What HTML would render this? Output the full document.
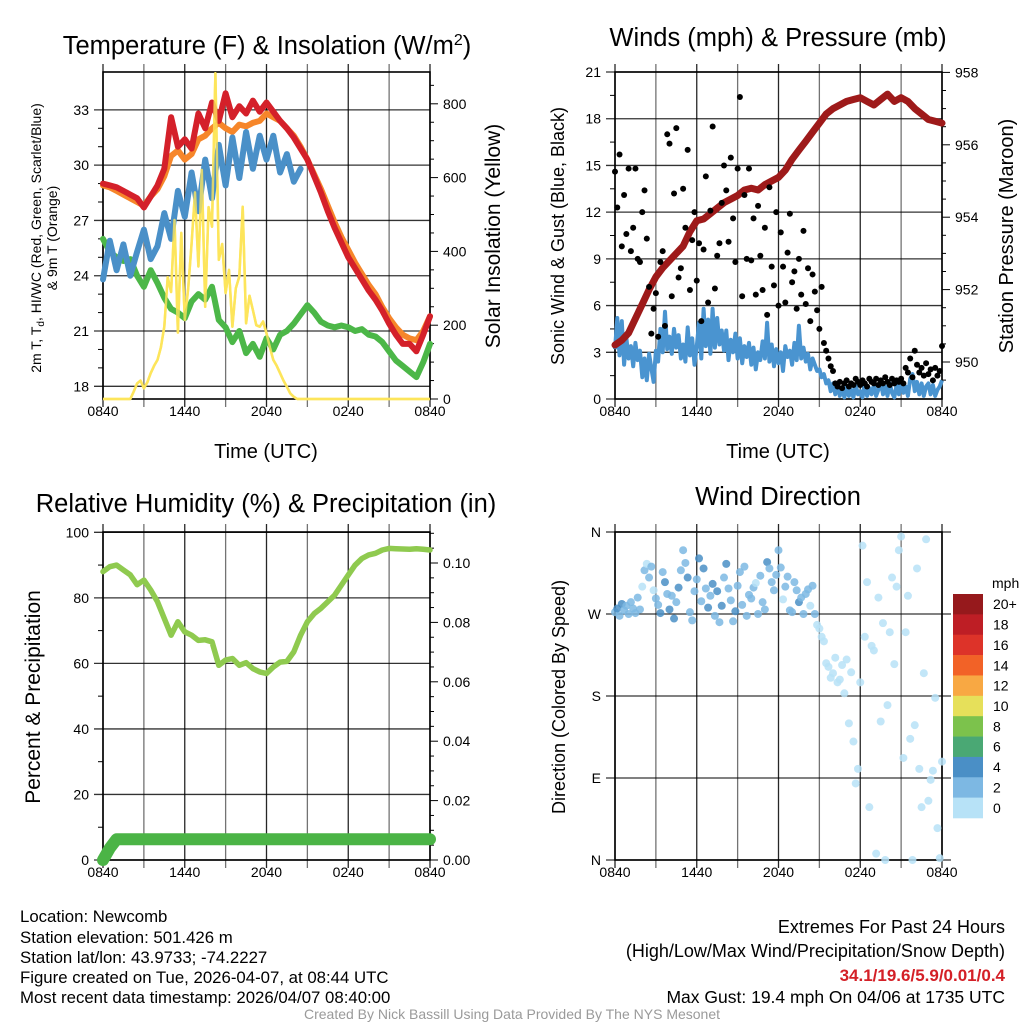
<!DOCTYPE html>
<html><head><meta charset="utf-8">
<style>
html,body{margin:0;padding:0;background:#fff;}
svg{display:block;font-family:"Liberation Sans",Arial,sans-serif;}
</style></head>
<body>
<svg id="chart" width="1024" height="1024" viewBox="0 0 1024 1024" xmlns="http://www.w3.org/2000/svg">
<rect x="0" y="0" width="1024" height="1024" fill="#fff"/>
<g id="p1"></g>
<g id="p2"></g>
<g id="p3"></g>
<g id="p4"></g>

<text x="267" y="54" font-size="25.5" text-anchor="middle">Temperature (F) &amp; Insolation (W/m<tspan dy="-9" font-size="16">2</tspan><tspan dy="9">)</tspan></text>
<text x="778" y="46" font-size="25.5" text-anchor="middle">Winds (mph) &amp; Pressure (mb)</text>
<text x="266" y="512" font-size="25.5" text-anchor="middle">Relative Humidity (%) &amp; Precipitation (in)</text>
<text x="778" y="505" font-size="25.5" text-anchor="middle">Wind Direction</text>

<text x="266" y="458" font-size="20" text-anchor="middle">Time (UTC)</text>
<text x="778" y="458" font-size="20" text-anchor="middle">Time (UTC)</text>

<text transform="translate(41,238) rotate(-90)" font-size="14" text-anchor="middle">2m T, T<tspan dy="3" font-size="10">d</tspan><tspan dy="-3">, HI/WC (Red, Green, Scarlet/Blue)</tspan></text>
<text transform="translate(57,238) rotate(-90)" font-size="14" text-anchor="middle">&amp; 9m T (Orange)</text>
<text transform="translate(500,236) rotate(-90)" font-size="21" text-anchor="middle">Solar Insolation (Yellow)</text>
<text transform="translate(564,236) rotate(-90)" font-size="18" text-anchor="middle">Sonic Wind &amp; Gust (Blue, Black)</text>
<text transform="translate(1013,236) rotate(-90)" font-size="20" text-anchor="middle">Station Pressure (Maroon)</text>
<text transform="translate(40,697) rotate(-90)" font-size="21" text-anchor="middle">Percent &amp; Precipitation</text>
<text transform="translate(565,697) rotate(-90)" font-size="18" text-anchor="middle">Direction (Colored By Speed)</text>

<g id="info" font-size="16.8">
<text x="20" y="922">Location: Newcomb</text>
<text x="20" y="943">Station elevation: 501.426 m</text>
<text x="20" y="963">Station lat/lon: 43.9733; -74.2227</text>
<text x="20" y="983">Figure created on Tue, 2026-04-07, at 08:44 UTC</text>
<text x="20" y="1003">Most recent data timestamp: 2026/04/07 08:40:00</text>
<g font-size="18">
<text x="1005" y="933" text-anchor="end">Extremes For Past 24 Hours</text>
<text x="1005" y="957" text-anchor="end">(High/Low/Max Wind/Precipitation/Snow Depth)</text>
<text x="1005" y="981" text-anchor="end" fill="#d42027" font-weight="bold" font-size="17">34.1/19.6/5.9/0.01/0.4</text>
<text x="1005" y="1003" text-anchor="end" font-size="17.5">Max Gust: 19.4 mph On 04/06 at 1735 UTC</text>
</g>
<text x="512" y="1019" text-anchor="middle" font-size="14" fill="#9a9a9a">Created By Nick Bassill Using Data Provided By The NYS Mesonet</text>
</g>
</svg>
<script>
// ---------- data ----------
const xTickLabels = ["0840","1440","2040","0240","0840"];
// half-hourly temperatures (F), 0840 -> 0840
const tempRed = [29.0,28.9,28.8,28.6,28.4,28.2,27.7,28.3,28.9,29.8,32.6,31.0,31.4,30.9,32.8,32.0,33.4,32.4,33.9,32.6,33.2,32.8,33.5,32.9,33.4,32.9,32.4,32.0,31.5,30.9,30.3,29.4,28.5,27.5,26.6,25.8,25.0,24.4,23.8,23.2,22.7,22.1,21.4,20.8,20.3,20.3,19.9,20.8,21.8];
const tempOrange = [28.9,28.8,28.6,28.4,28.2,28.0,27.8,28.3,28.7,29.4,30.5,30.8,30.3,30.6,31.4,31.6,32.0,32.3,32.0,31.8,32.2,32.1,32.3,32.4,32.8,32.6,32.4,32.0,31.6,31.0,30.3,29.5,28.7,27.8,26.9,26.1,25.4,24.7,24.1,23.5,23.0,22.3,21.7,21.2,20.8,20.6,20.5,21.0,21.8];
const tempBlue = [23.8,25.9,24.3,25.7,24.0,25.3,26.5,24.9,25.6,27.4,26.0,28.6,27.2,29.6,27.5,30.3,28.2,31.1,28.9,31.5,29.3,31.8,29.8,31.6,30.3,31.6,29.6,30.6,29.1,29.8];
const tempGreen = [26.0,25.3,25.0,24.8,24.9,24.0,23.4,24.3,23.6,22.8,22.2,22.0,21.7,22.6,23.0,22.7,23.4,21.6,21.2,20.4,21.0,19.8,20.3,19.6,20.6,20.0,20.8,21.0,21.4,21.9,22.4,22.0,21.5,21.3,21.2,21.3,21.2,21.0,21.1,20.8,20.7,20.4,19.9,19.4,19.1,18.8,18.5,19.3,20.3];
// quarter-hourly solar (W/m2)
const solar = [0,0,0,0,0,0,0,0,0,20,42,50,29,45,70,90,106,140,196,330,290,485,180,450,214,300,422,560,359,621,250,520,467,883,377,420,287,350,196,300,332,521,205,280,241,200,196,210,178,140,106,90,70,50,33,15,6,0,0,0,0,0,0,0,0,0,0,0,0,0,0,0,0,0,0,0,0,0,0,0,0,0,0,0,0,0,0,0,0,0,0,0,0,0,0,0,0];
// half-hourly pressure (mb)
const pressure = [950.47,950.6,950.8,951.2,951.6,952.0,952.35,952.6,952.8,953.0,953.2,953.6,953.9,953.95,954.1,954.25,954.4,954.5,954.6,954.75,954.8,954.75,954.9,955.0,955.1,955.3,955.6,955.85,956.1,956.35,956.6,956.85,957.0,957.1,957.2,957.25,957.3,957.2,957.1,957.25,957.4,957.2,957.3,957.2,957.0,956.85,956.7,956.65,956.6];
// 10-minute wind (mph)
const windSpeed = [3.2,5.2,2.8,5.0,2.2,3.9, 2.6,3.4,2.1,3.6,2.5,3.1, 1.4,2.6,1.2,2.9,2.0,1.1, 3.1,2.4,4.5,3.0,5.6,3.2, 4.0,2.9,4.5,3.3,4.1,2.6, 3.5,2.4,4.6,2.8,3.9,2.2, 3.4,4.9,2.6,5.8,3.4,5.1, 2.9,5.8,3.3,5.2,3.5,4.4, 3.1,4.4,2.5,3.8,3.0,4.2, 2.6,3.9,2.3,3.4,2.7,3.6, 2.2,3.3,1.9,3.0,2.5,3.7, 2.6,4.9,2.4,3.5,2.1,3.2, 2.3,3.0,1.8,3.4,2.7,3.1, 2.2,3.6,2.5,4.7,2.6,3.3, 2.4,2.9,1.9,2.6,2.2,1.8, 1.9,1.4,1.6,1.0,1.2,0.5, 1.0,0.3,0.9,0.2,0.7,0.1, 0.8,0.2,0.6,0.1,0.9,0.3, 0.5,0.1,1.0,0.2,0.7,0.3, 0.9,0.2,0.6,1.1,0.3,0.8, 0.2,1.0,0.4,0.1,0.9,0.3, 1.2,0.4,0.8,0.2,1.3,1.6, 0.5,1.1,0.3,1.0,0.2,0.8, 1.0,0.3,0.9,0.2,0.6,0.8, 1.2];
const windGust = [14.6,12.3,15.7,9.8,13.1,10.6, 14.8,9.5,11.0,14.8,9.0,8.8, 12.0,13.4,10.3,7.2,4.2,5.8, 6.8,4.0,8.8,9.5,4.7,17.0, 16.4,6.6,13.2,17.4,7.8,8.4, 13.5,11.0,16.0,7.0,10.2,12.0, 7.6,10.0,5.0,9.6,14.3,6.2, 12.1,17.5,7.1,9.2,10.0,12.6, 15.0,13.4,10.1,15.5,11.6,8.8, 14.8,19.4,6.6,13.1,9.0,14.8, 8.9,11.6,6.7,12.4,9.2,7.0, 11.0,5.4,13.6,8.5,7.3,12.0, 6.0,10.7,8.5,6.2,9.4,11.9, 7.5,8.2,5.8,9.0,6.7,10.8, 6.1,8.4,5.0,8.0,6.9,5.7, 4.5,7.2,3.6,3.1,2.6,2.1, 1.8,1.0,0.8,1.1,0.7,1.0, 1.2,0.8,1.0,0.9,1.3,1.1, 0.9,1.2,1.0,0.8,1.3,1.1, 1.0,1.3,0.9,1.2,1.0,1.4, 1.1,0.9,1.3,1.0,1.2,1.1, 1.3,1.0,2.0,1.7,2.6,1.4, 3.1,2.2,1.7,2.0,1.5,2.3, 1.6,1.9,1.2,2.0,1.5,1.8, 3.4];
const windDir = [272,276,268,281,274,279, 270,283,276,271,288,275, 300,318,325,310,322,296, 287,280,271,316,305,292, 275,290,265,283,299,318, 340,326,310,272,263,295, 308,331,284,320,298,277, 290,303,268,295,261,279, 310,325,298,285,262,273, 301,316,280,322,268,291, 287,299,304,270,312,283, 275,327,320,305,296,313, 340,321,286,300,311,274, 272,305,296,283,288,270, 292,297,279,301,270,258, 254,245,240,216,212,200, 205,222,195,198,214,183, 220,150,206,130,84,100, 195,345,245,305,58,235, 230,7,288,152,260,0, 170,250,310,215,300,340, 355,112,250,290,133,0, 148,320,100,58,205,352, 65,88,98,178,35,2, 108];
// half-hourly RH (%) and precip (in)
const humidity = [88.0,89.5,90.0,88.5,87.0,84.0,85.4,82.4,78.8,73.7,68.6,72.7,69.6,68.6,67.0,67.2,66.6,59.4,61.0,61.5,59.4,60.2,58.4,57.4,56.9,58.9,60.4,60.6,63.5,68.6,72.7,75.2,76.8,78.8,80.8,83.9,87.0,90.0,92.0,93.1,93.6,94.6,95.1,95.0,94.9,94.8,95.0,94.8,94.6];
const precip = [0.000,0.004,0.007,0.007,0.007,0.007,0.007,0.007,0.007,0.007,0.007,0.007,0.007,0.007,0.007,0.007,0.007,0.007,0.007,0.007,0.007,0.007,0.007,0.007,0.007,0.007,0.007,0.007,0.007,0.007,0.007,0.007,0.007,0.007,0.007,0.007,0.007,0.007,0.007,0.007,0.007,0.007,0.007,0.007,0.007,0.007,0.007,0.007,0.007];
const legendLabels = ["20+","18","16","14","12","10","8","6","4","2","0"];
const legendColors = ["#96191c","#be1e25","#dd3329","#f26227","#f8a843","#e6e05a","#7cc24c","#4aa874","#4a8fc6","#7db8e3","#b7e2f7"];
const dirLabels = ["N","E","S","W","N"];

// ---------- helpers ----------
const NS = "http://www.w3.org/2000/svg";
function mk(tag, parent, attrs) {
  const e = document.createElementNS(NS, tag);
  for (const k in attrs) e.setAttribute(k, attrs[k]);
  parent.appendChild(e);
  return e;
}
function linePath(vals, xf, yf) {
  return vals.map((v, i) => (i ? "L" : "M") + xf(i).toFixed(1) + "," + yf(v).toFixed(1)).join("");
}
function frame(g, L, T, R, B, name) {
  for (let k = 0; k <= 8; k++) {
    const x = L + (R - L) * k / 8;
    const ln = mk("line", g, {x1: x, x2: x, y1: T - 8, y2: B + 8, stroke: "#000", "stroke-opacity": (k % 2 ? 0.55 : 0.85), "stroke-width": 1.3});
    
    
    if (k % 2 === 0) {
      const t = mk("text", g, {x: x, y: B + 17, "font-size": 14, "text-anchor": "middle"});
      t.textContent = xTickLabels[k / 2];
      
      
    }
  }
  const bx = mk("rect", g, {x: L, y: T, width: R - L, height: B - T, fill: "none", stroke: "#000", "stroke-width": 1.6});
  
  
}
function leftAxis(g, L, R, yf, min, max, step, minor, fmt) {
  for (let v = min; v <= max + 1e-9; v += minor) {
    const y = yf(v);
    const isMaj = Math.abs((v - min) / step - Math.round((v - min) / step)) < 1e-6;
    if (isMaj) {
      const ln = mk("line", g, {x1: L - 9, x2: R, y1: y, y2: y, stroke: "#000", "stroke-opacity": 0.8, "stroke-width": 1.3});
      
      
      const t = mk("text", g, {x: L - 14, y: y + 5, "font-size": 14, "text-anchor": "end"});
      t.textContent = fmt(v);
      
      
    } else {
      const ln = mk("line", g, {x1: L - 5, x2: L, y1: y, y2: y, stroke: "#000", "stroke-width": 1});
      
      
    }
  }
}
function rightAxis(g, R, yf, min, max, step, minor, fmt, lo, hi) {
  for (let v = lo; v <= hi + 1e-9; v += minor) {
    const y = yf(v);
    const isMaj = Math.abs((v - min) / step - Math.round((v - min) / step)) < 1e-6 && v >= min - 1e-9 && v <= max + 1e-9;
    const ln = mk("line", g, {x1: R, x2: R + (isMaj ? 8 : 4), y1: y, y2: y, stroke: "#000", "stroke-width": 1});
    
    
    if (isMaj) {
      const t = mk("text", g, {x: R + 13, y: y + 5, "font-size": 14});
      t.textContent = fmt(v);
      
      
    }
  }
}

// ---------- panel 1: temperature ----------
(function () {
  const g = document.getElementById("p1");
  const L = 103, R = 430, T = 72, B = 399;
  const xH = h => L + h / 24 * (R - L);
  const yT = v => 386.3 - (v - 18) * 18.43;
  const yS = w => 399 - w * 0.369;
  frame(g, L, T, R, B, "temperature");
  leftAxis(g, L, R, yT, 18, 33, 3, 1, v => String(v));
  rightAxis(g, R, yS, 0, 800, 200, 50, v => String(v), 0, 850);
  const half = i => xH(i * 0.5), quarter = i => xH(i * 0.25);
  const sol = mk("path", g, {d: linePath(solar, quarter, yS), fill: "none", stroke: "#fde55b", "stroke-width": 2.5, "stroke-linejoin": "round"});
  
  
  const gr = mk("path", g, {d: linePath(tempGreen, half, yT), fill: "none", stroke: "#4cb748", "stroke-width": 6, "stroke-linejoin": "round", "stroke-linecap": "round"});
  
  
  const or = mk("path", g, {d: linePath(tempOrange, half, yT), fill: "none", stroke: "#f6862a", "stroke-width": 6, "stroke-linejoin": "round", "stroke-linecap": "round"});
  
  
  const rd = mk("path", g, {d: linePath(tempRed, half, yT), fill: "none", stroke: "#d4202a", "stroke-width": 6, "stroke-linejoin": "round", "stroke-linecap": "round"});
  
  
  const bl = mk("path", g, {d: linePath(tempBlue, half, yT), fill: "none", stroke: "#4a90c8", "stroke-width": 6, "stroke-linejoin": "round", "stroke-linecap": "round"});
  
  
  const sol2 = mk("path", g, {d: linePath(solar, quarter, yS), fill: "none", stroke: "#fde55b", "stroke-width": 2.5, "stroke-opacity": 0.8, "stroke-linejoin": "round"});
  
  
})();

// ---------- panel 2: wind & pressure ----------
(function () {
  const g = document.getElementById("p2");
  const L = 615, R = 942, T = 72, B = 399;
  const xH = h => L + h / 24 * (R - L);
  const yW = v => 399 - v * 15.57;
  const yP = p => 362 - (p - 950) * 36.2;
  frame(g, L, T, R, B, "wind");
  leftAxis(g, L, R, yW, 0, 21, 3, 1.5, v => String(v));
  rightAxis(g, R, yP, 950, 958, 2, 0.5, v => String(v), 949.5, 958);
  const ten = i => xH(i / 6), half = i => xH(i * 0.5);
  const wl = mk("path", g, {d: linePath(windSpeed, ten, yW), fill: "none", stroke: "#4a94d0", "stroke-width": 4, "stroke-linejoin": "round"});
  
  
  const pl = mk("path", g, {d: linePath(pressure, half, yP), fill: "none", stroke: "#9e1a1a", "stroke-width": 7, "stroke-linejoin": "round", "stroke-linecap": "round"});
  
  
  windGust.forEach((v, i) => {
    const c = mk("circle", g, {cx: ten(i), cy: yW(v), r: 3, fill: "#000"});
    
    
  });
})();

// ---------- panel 3: humidity ----------
(function () {
  const g = document.getElementById("p3");
  const L = 103, R = 430, T = 532, B = 860;
  const xH = h => L + h / 24 * (R - L);
  const yH = v => 860 - v * 3.277;
  const yPr = v => 860 - v * 2970;
  frame(g, L, T, R, B, "humidity");
  leftAxis(g, L, R, yH, 0, 100, 20, 10, v => String(v));
  rightAxis(g, R, yPr, 0, 0.1, 0.02, 0.005, v => v.toFixed(2), 0, 0.11);
  const half = i => xH(i * 0.5);
  const rh = mk("path", g, {d: linePath(humidity, half, yH), fill: "none", stroke: "#8fca4f", "stroke-width": 5.5, "stroke-linejoin": "round", "stroke-linecap": "round"});
  
  
  const pr = mk("path", g, {d: linePath(precip, half, yPr), fill: "none", stroke: "#4bb446", "stroke-width": 12, "stroke-linejoin": "round", "stroke-linecap": "round"});
  
  
})();

// ---------- panel 4: wind direction ----------
(function () {
  const g = document.getElementById("p4");
  const L = 615, R = 942, T = 532, B = 860;
  const xH = h => L + h / 24 * (R - L);
  const yD = d => 860 - d / 360 * 328;
  frame(g, L, T, R, B, "direction");
  for (let k = 0; k <= 4; k++) {
    const y = yD(k * 90);
    const ln = mk("line", g, {x1: L - 9, x2: R + 9, y1: y, y2: y, stroke: "#000", "stroke-opacity": 0.8, "stroke-width": 1.3});
    
    
    const t = mk("text", g, {x: L - 14, y: y + 5, "font-size": 14, "text-anchor": "end"});
    t.textContent = dirLabels[k];
    
    
  }
  const colorFor = s => legendColors[10 - Math.min(10, Math.floor(s / 2))];
  windDir.forEach((d, i) => {
    const c = mk("circle", g, {cx: xH(i / 6), cy: yD(d), r: 4, fill: colorFor(windSpeed[i]), "fill-opacity": 0.85});
    
    
  });
  const lg = mk("g", g, {});
  
  
  const mph = mk("text", lg, {x: 992, y: 588, "font-size": 14});
  mph.textContent = "mph";
  
  
  const bh = 224 / 11;
  legendColors.forEach((c, k) => {
    const r = mk("rect", lg, {x: 953, y: 594 + k * bh, width: 30, height: bh + 0.3, fill: c});
    
    
    const t = mk("text", lg, {x: 993, y: 594 + k * bh + bh / 2 + 5, "font-size": 14});
    t.textContent = legendLabels[k];
    
    
  });
})();
</script>
</body></html>
